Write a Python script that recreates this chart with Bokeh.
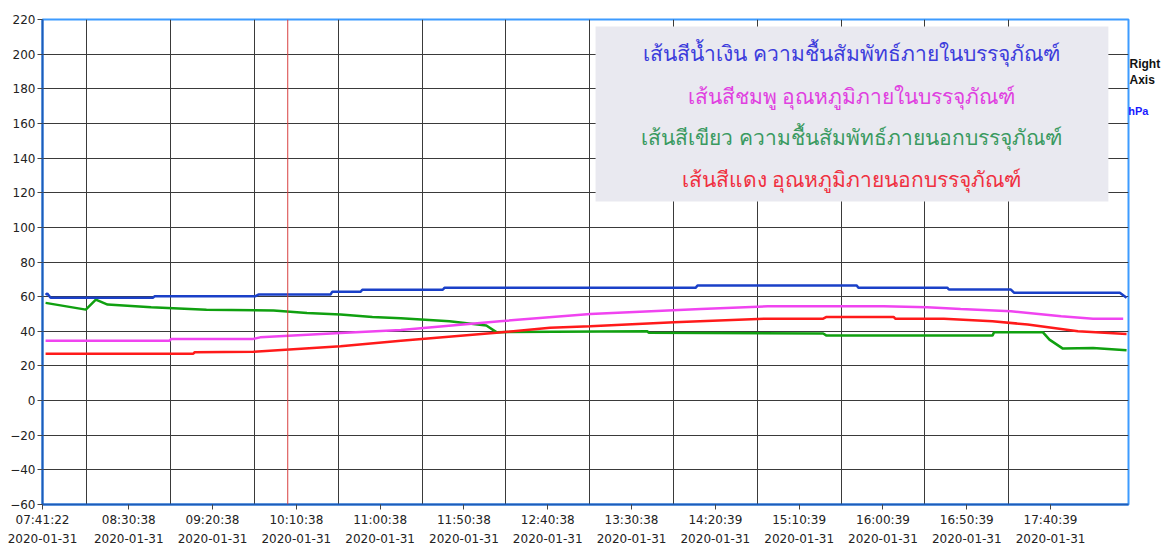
from bokeh.plotting import figure
from bokeh.models import Range1d, FixedTicker, Span, BoxAnnotation, Label, LinearAxis
from bokeh.embed import file_html
from bokeh.resources import INLINE


def secs(t):
    parts = [int(v) for v in t.split(":")]
    while len(parts) < 3:
        parts.append(0)
    return parts[0] * 3600 + parts[1] * 60 + parts[2]


DATE = "2020-01-31"
START_LABEL = "07:41:22"
X_START = "07:39:10"
X_END = "18:27:10"
CURSOR_TIME = "10:05:30"
TICK_LABELS = ["08:30:38", "09:20:38", "10:10:38", "11:00:38", "11:50:38", "12:40:38",
               "13:30:38", "14:20:39", "15:10:39", "16:00:39", "16:50:39", "17:40:39"]
GRID_TIMES = ["08:05:38", "08:55:38", "09:45:38", "10:35:38", "11:25:38", "12:15:38",
              "13:05:38", "13:55:38", "14:45:38", "15:35:38", "16:25:38", "17:15:38"]
Y_TICKS = [-60, -40, -20, 0, 20, 40, 60, 80, 100, 120, 140, 160, 180, 200, 220]

# blue: humidity inside package
blue_t = ["07:41", "07:42", "07:44", "08:45", "08:46", "09:46", "09:48", "10:31", "10:32",
          "10:49", "10:50", "11:38", "11:39", "14:09", "14:10", "15:45", "15:46", "16:39",
          "16:40", "17:17", "17:19", "18:22", "18:26"]
blue_v = [61.0, 61.8, 59.3, 59.3, 60.2, 60.2, 61.2, 61.2, 62.8,
          62.8, 64.0, 64.0, 65.1, 65.2, 66.4, 66.5, 65.2, 65.2,
          64.1, 64.1, 62.2, 62.2, 59.3]

# magenta: temperature inside package
pink_t = ["07:41", "08:55", "08:56", "09:45", "09:49", "10:37", "11:13", "12:12", "13:06",
          "14:12", "14:52", "16:01", "16:27", "16:47", "17:17", "17:47", "18:06", "18:24"]
pink_v = [34.6, 34.6, 35.6, 35.6, 36.5, 39.0, 40.8, 45.8, 50.0,
          52.9, 54.4, 54.4, 53.9, 52.9, 51.6, 48.7, 47.3, 47.3]

# green: humidity outside package
green_t = ["07:41", "08:05", "08:11", "08:18", "08:44", "09:17", "09:57", "10:17", "10:37",
           "10:56", "11:13", "11:42", "12:04", "12:10", "13:40", "13:41", "15:25", "15:27",
           "17:06", "17:07", "17:36", "17:40", "17:48", "18:06", "18:26"]
green_v = [56.4, 52.5, 58.3, 55.4, 53.9, 52.5, 52.0, 50.6, 49.7,
           48.3, 47.5, 45.8, 43.3, 39.5, 40.0, 39.1, 38.7, 37.5,
           37.5, 39.5, 39.5, 35.2, 30.0, 30.4, 29.0]

# red: temperature outside package
red_t = ["07:41", "09:09", "09:10", "09:45", "10:37", "11:13", "12:10", "12:42", "13:06",
         "13:56", "14:52", "15:25", "15:27", "16:07", "16:08", "16:37", "17:06", "17:27",
         "17:57", "18:26"]
red_v = [27.0, 27.0, 27.9, 28.2, 31.4, 34.6, 39.1, 42.0, 42.9,
         45.2, 47.3, 47.3, 48.3, 48.3, 47.3, 47.3, 45.8, 43.9,
         40.0, 38.5]

LEGEND_LINES = [
    ("เส้นสีน้ำเงิน ความชื้นสัมพัทธ์ภายในบรรจุภัณฑ์", "#3c3cdc"),
    ("เส้นสีชมพู อุณหภูมิภายในบรรจุภัณฑ์", "#e040e0"),
    ("เส้นสีเขียว ความชื้นสัมพัทธ์ภายนอกบรรจุภัณฑ์", "#3a9a60"),
    ("เส้นสีแดง อุณหภูมิภายนอกบรรจุภัณฑ์", "#f03040"),
]
LEGEND_Y = [200.4, 176.1, 151.9, 128.2]

RIGHT_CAPTION = ["Right", "Axis"]
RIGHT_CAPTION_Y = [194.3, 185.0]
RIGHT_UNIT = "hPa"

x0, x1 = secs(X_START), secs(X_END)

p = figure(width=1168, height=549, x_range=Range1d(x0, x1), y_range=Range1d(-60, 220),
           output_backend="svg", toolbar_location=None,
           min_border_left=42, min_border_right=40, min_border_top=19, min_border_bottom=45)

p.background_fill_color = "white"
p.border_fill_color = "white"
p.outline_line_color = "#3d9bff"
p.outline_line_width = 2

# axes
tick_pos = [x0] + [secs(t) for t in TICK_LABELS]
tick_txt = [START_LABEL] + TICK_LABELS
p.xaxis.ticker = FixedTicker(ticks=tick_pos)
p.xaxis.major_label_overrides = {pos: t for pos, t in zip(tick_pos, tick_txt)}
p.yaxis.ticker = FixedTicker(ticks=Y_TICKS)
for ax in (p.xaxis, p.yaxis):
    ax.axis_line_color = "#1f5cb8"
    ax.axis_line_width = 2
    ax.major_tick_line_color = "#444444"
    ax.major_tick_out = 5
    ax.major_tick_in = 0
    ax.minor_tick_line_color = None
    ax.major_label_text_font = "DejaVu Sans"
    ax.major_label_text_font_size = "12px"
    ax.major_label_text_color = "#222222"
    ax.major_label_standoff = 3
p.yaxis.major_label_standoff = 2

date_axis = LinearAxis(ticker=FixedTicker(ticks=tick_pos),
                       major_label_overrides={pos: DATE for pos in tick_pos},
                       axis_line_color=None, major_tick_out=0, major_tick_in=0,
                       minor_tick_line_color=None, major_label_standoff=4,
                       major_label_text_font="DejaVu Sans", major_label_text_font_size="12px",
                       major_label_text_color="#222222")
p.add_layout(date_axis, "below")

# right-side caption made with an axis (so it can sit outside the frame);
# the unit is the axis label, lifted toward the top with padding lines below it
unit_label = "\n".join([RIGHT_UNIT] + [" "] * 21)
right_axis = LinearAxis(ticker=FixedTicker(ticks=RIGHT_CAPTION_Y),
                        major_label_overrides={v: t for v, t in zip(RIGHT_CAPTION_Y, RIGHT_CAPTION)},
                        axis_line_color=None, major_tick_out=0, major_tick_in=0,
                        minor_tick_line_color=None, major_label_standoff=1,
                        major_label_text_font="Liberation Sans", major_label_text_font_size="12px",
                        major_label_text_font_style="bold", major_label_text_color="#111111",
                        axis_label=unit_label, axis_label_orientation="horizontal",
                        axis_label_standoff=-35,
                        axis_label_text_font="Liberation Sans", axis_label_text_font_size="11px",
                        axis_label_text_font_style="bold", axis_label_text_color="#1a1aff")
p.add_layout(right_axis, "right")

p.xgrid.ticker = FixedTicker(ticks=[secs(t) for t in GRID_TIMES])
p.ygrid.ticker = FixedTicker(ticks=Y_TICKS)
for g in (p.xgrid, p.ygrid):
    g.grid_line_color = "#3a3a3a"
    g.grid_line_width = 1
    g.grid_line_alpha = 1.0

# cursor line
p.add_layout(Span(location=secs(CURSOR_TIME), dimension="height", line_color="#d84040", line_width=1))

# series
for tt, vv, col in [(green_t, green_v, "#10a010"), (red_t, red_v, "#ff1a1a"),
                    (pink_t, pink_v, "#f044f0"), (blue_t, blue_v, "#1a40c8")]:
    p.line([secs(t) for t in tt], vv, line_color=col, line_width=2.5)

# legend box
p.add_layout(BoxAnnotation(left=secs("13:09:10"), right=secs("18:15:10"), bottom=114.9, top=216,
                           fill_color="#e9e9f0", fill_alpha=1.0, line_color=None))
lx = secs("15:41:52")
for (txt, col), ly in zip(LEGEND_LINES, LEGEND_Y):
    p.add_layout(Label(x=lx, y=ly, text=txt, text_color=col, text_font_size="21px",
                       text_font="Noto Sans", text_align="center", text_baseline="middle"))

open("out.html", "w").write(file_html(p, INLINE))
